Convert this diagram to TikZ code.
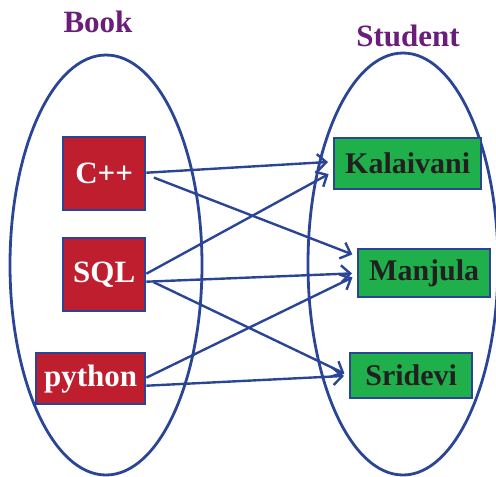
\documentclass[tikz,border=0pt]{standalone}
\usepackage{fontspec}
\setmainfont{Liberation Serif}
\usetikzlibrary{arrows.meta}
\definecolor{lineblue}{HTML}{2B4596}
\definecolor{boxred}{HTML}{BE1E2D}
\definecolor{boxgreen}{HTML}{1FB04C}
\definecolor{titlepurple}{HTML}{6B1D7A}
\definecolor{textdark}{HTML}{231F20}
\tikzset{
  setline/.style={draw=lineblue, line width=2.8pt},
  bookbox/.style={draw=lineblue, line width=2.4pt, fill=boxred, text=white, font=\bfseries\fontsize{31}{34}\selectfont, inner sep=0pt, anchor=north west},
  studbox/.style={draw=lineblue, line width=2.4pt, fill=boxgreen, text=textdark, font=\bfseries\fontsize{30}{34}\selectfont, inner sep=0pt, anchor=north west},
  title/.style={text=titlepurple, font=\bfseries\fontsize{31}{34}\selectfont},
  link/.style={draw=lineblue, line width=2.4pt, -{Straight Barb[length=9pt,width=17pt,line width=2.4pt]}, shorten >=5pt}
}
\begin{document}
\begin{tikzpicture}[x=1pt,y=-1pt]
\useasboundingbox (0,0) rectangle (496,477);
\node[title] (booktitle) at (98,22) {Book};
\node[title] (studtitle) at (408,36) {Student};
\draw[setline] (106,265) ellipse [x radius=96, y radius=210];
\draw[setline] (403,264) ellipse [x radius=95, y radius=211];
\node[bookbox, minimum width=82, minimum height=73] (cpp) at (62,136) {C++};
\node[bookbox, minimum width=82, minimum height=73] (sql) at (62,237) {SQL};
\node[bookbox, minimum width=109, minimum height=51] (py) at (35,352) {python};
\node[studbox, minimum width=147, minimum height=51] (kal) at (333,137) {Kalaivani};
\node[studbox, minimum width=132, minimum height=48] (man) at (357,248) {Manjula};
\node[studbox, minimum width=122, minimum height=45] (sri) at (349,352) {Sridevi};
\draw[link] ([yshift=1]cpp.east) -- ([yshift=2]kal.west);
\draw[link, shorten <=8pt] ([yshift=-1]cpp.east) -- ([yshift=17]man.west);
\draw[link] ([yshift=1]sql.east) -- ([yshift=-8]kal.west);
\draw[link] ([yshift=-7]sql.east) -- (man.west);
\draw[link, shorten <=8pt] ([yshift=-4]sql.east) -- (sri.west);
\draw[link] ([yshift=1]py.east) -- ([yshift=-2]man.west);
\draw[link] ([yshift=-7]py.east) -- (sri.west);
\end{tikzpicture}
\end{document}
